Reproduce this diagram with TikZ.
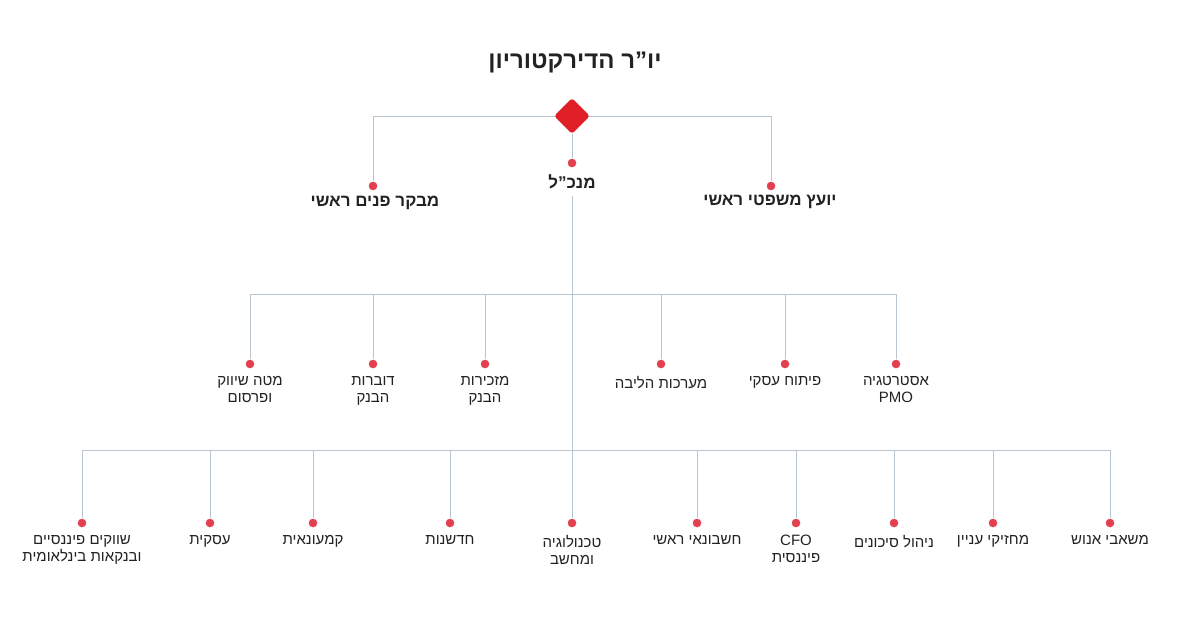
\documentclass[tikz,border=0pt]{standalone}
\usepackage{fontspec}
\setmainfont[Script=Hebrew]{Liberation Sans}
\TeXXeTstate=1
\usetikzlibrary{positioning, shapes.geometric}
\newcommand{\heb}[1]{\beginR #1\endR}
\definecolor{linegray}{HTML}{B9C5CF}
\definecolor{dotred}{HTML}{E2404F}
\definecolor{topred}{HTML}{E01E25}
\definecolor{txt}{HTML}{222222}
\begin{document}
\begin{tikzpicture}[x=1pt, y=-1pt,
  link/.style={draw=linegray, line width=1pt},
  dot/.style={circle, fill=dotred, draw=white, line width=1pt, minimum size=10pt, inner sep=0pt},
  unit/.style={text=txt, font=\fontsize{15}{17}\selectfont, align=center, anchor=north, inner sep=1pt},
  head/.style={text=txt, font=\fontsize{17}{19}\selectfont\bfseries, anchor=north, inner sep=1pt}
  ]
\useasboundingbox (0,0) rectangle (1191,637);
% top
\node[text=txt, font=\fontsize{24}{26}\selectfont\bfseries] (chair) at (575,62) {\heb{יו”ר הדירקטוריון}};
\coordinate (hl) at (373,116);
\coordinate (hr) at (771,116);
\draw[link] (hl) -- (hr);
\node[diamond, fill=topred, rounded corners=3pt, minimum size=36pt, inner sep=0pt] (top) at (572,116) {};
\node[dot] (audit) at (373,186) {};
\node[dot] (ceo) at (572,163) {};
\node[dot] (legal) at (771,186) {};
\draw[link] (hl) -- (audit);
\draw[link] (hr) -- (legal);
\draw[link] (top) -- (ceo);
\node[head] (auditL) at (375,195) {\heb{מבקר פנים ראשי}};
\node[head] (ceoL) at (572,173) {\heb{מנכ”ל}};
\node[head] (legalL) at (770,194) {\heb{יועץ משפטי ראשי}};
% level 2
\coordinate (b2) at (572,294);
\coordinate (b3) at (572,450);
\draw[link] (ceoL.south) ++(0,6) coordinate (trunk) -- (b2);
\draw[link] (250,294) coordinate (l2a) -- (896,294) coordinate (l2b);
\foreach \x/\name/\txt in {
  250/mkt/{\heb{מטה שיווק}\\\heb{ופרסום}},
  373/spk/{\heb{דוברות}\\\heb{הבנק}},
  485/sec/{\heb{מזכירות}\\\heb{הבנק}},
  661/core/{\heb{מערכות הליבה}},
  785/biz/{\heb{פיתוח עסקי}},
  896/pmo/{\heb{אסטרטגיה}\\PMO}}{
  \node[dot] (\name) at (\x,364) {};
  \draw[link] (\x,294) -- (\name);
  \node[unit] (\name L) at (\x,375) {\txt};
}
% level 3
\draw[link] (b2) -- (b3);
\draw[link] (82,450) -- (1110,450);
\foreach \x/\name/\txt in {
  82/fin/{\heb{שווקים פיננסיים}\\\heb{ובנקאות בינלאומית}},
  210/bus/{\heb{עסקית}},
  313/ret/{\heb{קמעונאית}},
  450/inn/{\heb{חדשנות}},
  572/tech/{\heb{טכנולוגיה}\\\heb{ומחשב}},
  697/acc/{\heb{חשבונאי ראשי}},
  796/cfo/{CFO\\\heb{פיננסית}},
  894/risk/{\heb{ניהול סיכונים}},
  993/stake/{\heb{מחזיקי עניין}},
  1110/hr/{\heb{משאבי אנוש}}}{
  \node[dot] (\name) at (\x,523) {};
  \draw[link] (\x,450) -- (\name);
  \node[unit] (\name L) at (\x,534) {\txt};
}
\end{tikzpicture}
\end{document}
